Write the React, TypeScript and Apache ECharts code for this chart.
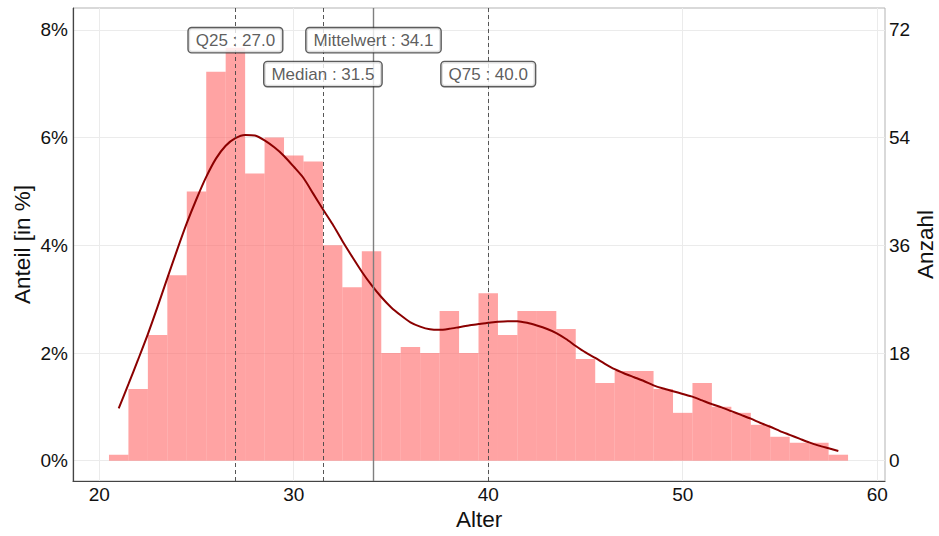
import React, { useEffect, useRef } from "react";
import * as echarts from "echarts";

// ---- data ----
const N = 900; // total count (8% <-> 72)
const binCenters = [21, 22, 23, 24, 25, 26, 27, 28, 29, 30, 31, 32, 33, 34, 35, 36, 37, 38, 39, 40, 41, 42, 43, 44, 45, 46, 47, 48, 49, 50, 51, 52, 53, 54, 55, 56, 57, 58];
const binCounts = [1, 12, 21, 31, 45, 65, 69, 48, 54, 51, 50, 36, 29, 35, 18, 19, 18, 25, 18, 28, 21, 25, 25, 22, 17, 13, 15, 15, 12, 8, 13, 9, 8, 6, 4, 3, 3, 1];

const densityX = [21, 21.5, 22, 22.5, 23, 23.5, 24, 24.5, 25, 25.5, 26, 26.5, 27, 27.5, 28, 28.5, 29, 29.5, 30, 30.5, 31, 31.5, 32, 32.5, 33, 33.5, 34, 34.5, 35, 35.5, 36, 36.5, 37, 37.5, 38, 38.5, 39, 39.5, 40, 40.5, 41, 41.5, 42, 42.5, 43, 43.5, 44, 44.5, 45, 45.5, 46, 46.5, 47, 47.5, 48, 48.5, 49, 49.5, 50, 50.5, 51, 51.5, 52, 52.5, 53, 53.5, 54, 54.5, 55, 55.5, 56, 56.5, 57, 57.5, 58];
const densityPct = [0.97, 1.42, 1.88, 2.35, 2.86, 3.39, 3.91, 4.41, 4.86, 5.27, 5.61, 5.85, 5.99, 6.05, 6.04, 5.95, 5.82, 5.66, 5.46, 5.25, 4.96, 4.67, 4.39, 4.08, 3.79, 3.51, 3.26, 3.04, 2.85, 2.7, 2.57, 2.49, 2.44, 2.43, 2.45, 2.48, 2.51, 2.54, 2.56, 2.58, 2.59, 2.59, 2.56, 2.51, 2.45, 2.37, 2.26, 2.13, 2.01, 1.91, 1.8, 1.7, 1.62, 1.55, 1.48, 1.4, 1.34, 1.29, 1.24, 1.19, 1.12, 1.05, 0.99, 0.92, 0.85, 0.78, 0.7, 0.63, 0.55, 0.48, 0.41, 0.34, 0.28, 0.23, 0.18];

const statNames = ["Q25", "Median", "Mittelwert", "Q75"];
const statValues = [27.0, 31.5, 34.1, 40.0];
const statLabelY = [7.81, 7.18, 7.81, 7.18];

const xTicks = [20, 30, 40, 50, 60];
const yTicksPct = [0, 2, 4, 6, 8];

const FONT = "'Liberation Sans', Arial, sans-serif";
const GRID_COLOR = "#ebebeb";

export default function App() {
  const ref = useRef<HTMLDivElement>(null);

  useEffect(() => {
    if (!ref.current) return;
    const chart = echarts.init(ref.current, null, { renderer: "svg" });

    const barData = binCenters.map((x, i) => [x, (binCounts[i] / N) * 100]);
    const lineData = densityX.map((x, i) => [x, densityPct[i]]);

    const statLineData = statNames.map((name, i) => {
      const isMean = name === "Mittelwert";
      return {
        xAxis: statValues[i],
        lineStyle: isMean
          ? { color: "#7f7f7f", width: 1.4, type: "solid" }
          : { color: "#444444", width: 0.9, type: [4, 3] },
      };
    });

    const gridLineData = [
      ...xTicks.map((v) => ({ xAxis: v })),
      ...yTicksPct.map((v) => ({ yAxis: v })),
    ];

    const labelData = statNames.map((name, i) => ({
      name: `${name} : ${statValues[i].toFixed(1)}`,
      value: [statValues[i], statLabelY[i]],
    }));

    const axisNameStyle = { fontSize: 22.5, color: "#111", fontFamily: FONT };
    const tickLabelBase = { fontSize: 19, color: "#111", fontFamily: FONT };

    const option: any = {
      animation: false,
      textStyle: { fontFamily: FONT },
      grid: {
        left: 73,
        right: 54,
        top: 8,
        bottom: 55,
        show: true,
        borderColor: "#b3b3b3",
        borderWidth: 1,
        containLabel: false,
        outerBoundsMode: "none",
      },
      xAxis: {
        type: "value",
        min: 18.65,
        max: 60.4,
        name: "Alter",
        nameLocation: "middle",
        nameGap: 27,
        nameMoveOverlap: false,
        nameTextStyle: axisNameStyle,
        axisLine: { show: true, onZero: false, lineStyle: { color: "#444", width: 1.2 } },
        axisTick: { show: false, customValues: xTicks },
        axisLabel: {
          ...tickLabelBase,
          margin: 4,
          customValues: xTicks,
          formatter: (v: number) => String(v),
        },
        splitLine: { show: false },
      },
      yAxis: [
        {
          type: "value",
          min: -0.377,
          max: 8.407,
          name: "Anteil [in %]",
          nameLocation: "middle",
          nameGap: 39,
          nameRotate: 90,
          nameMoveOverlap: false,
          nameTextStyle: axisNameStyle,
          axisLine: { show: true, onZero: false, lineStyle: { color: "#444", width: 1.2 } },
          axisTick: { show: false, customValues: yTicksPct },
          axisLabel: {
            ...tickLabelBase,
            margin: 5,
            customValues: yTicksPct,
            formatter: (v: number) => `${v}%`,
          },
          splitLine: { show: false },
        },
        {
          type: "value",
          position: "right",
          min: -0.377,
          max: 8.407,
          name: "Anzahl",
          nameLocation: "middle",
          nameGap: 29,
          nameRotate: 90,
          nameMoveOverlap: false,
          nameTextStyle: axisNameStyle,
          axisLine: { show: false, onZero: false },
          axisTick: { show: false, customValues: yTicksPct },
          axisLabel: {
            ...tickLabelBase,
            margin: 4,
            customValues: yTicksPct,
            formatter: (v: number) => String(Math.round((v * N) / 100)),
          },
          splitLine: { show: false },
        },
      ],
      series: [
        {
          type: "line",
          name: "gridlines",
          xAxisIndex: 0,
          yAxisIndex: 0,
          data: [],
          silent: true,
          z: 0,
          markLine: {
            silent: true,
            z: 0,
            symbol: "none",
            label: { show: false },
            lineStyle: { color: GRID_COLOR, width: 1, type: "solid" },
            emphasis: { disabled: true },
            data: gridLineData,
          },
        },
        {
          type: "custom",
          name: "hist",
          xAxisIndex: 0,
          yAxisIndex: 0,
          silent: true,
          z: 2,
          data: barData,
          encode: { x: 0, y: 1 },
          renderItem: (params: any, api: any) => {
            const x = api.value(0);
            const p = api.value(1);
            const a = api.coord([x - 0.5, 0]);
            const b = api.coord([x + 0.5, p]);
            return {
              type: "rect",
              shape: { x: a[0], y: b[1], width: b[0] - a[0], height: a[1] - b[1] },
              style: { fill: "rgba(255,102,102,0.6)" },
            };
          },
        },
        {
          type: "line",
          name: "density",
          xAxisIndex: 0,
          yAxisIndex: 0,
          data: lineData,
          smooth: 0.25,
          showSymbol: false,
          silent: true,
          z: 3,
          lineStyle: { color: "#8b0000", width: 2 },
          markLine: {
            silent: true,
            z: 5,
            symbol: "none",
            label: { show: false },
            emphasis: { disabled: true },
            data: statLineData,
          },
        },
        {
          type: "scatter",
          name: "labels",
          xAxisIndex: 0,
          yAxisIndex: 0,
          data: labelData,
          symbolSize: 1,
          itemStyle: { color: "rgba(0,0,0,0)" },
          silent: true,
          z: 10,
          label: {
            show: true,
            position: "inside",
            formatter: "{b}",
            fontSize: 17,
            fontFamily: FONT,
            color: "#333333",
            backgroundColor: "#ffffff",
            borderColor: "#333333",
            borderWidth: 1.4,
            borderRadius: 3,
            padding: [3, 7, 3, 7],
            lineHeight: 18,
          },
        },
      ],
    };

    chart.setOption(option);
    return () => chart.dispose();
  }, []);

  return (
    <div
      ref={ref}
      style={{ position: "absolute", left: 0, top: 0, width: 939, height: 536, background: "#fff" }}
    />
  );
}
